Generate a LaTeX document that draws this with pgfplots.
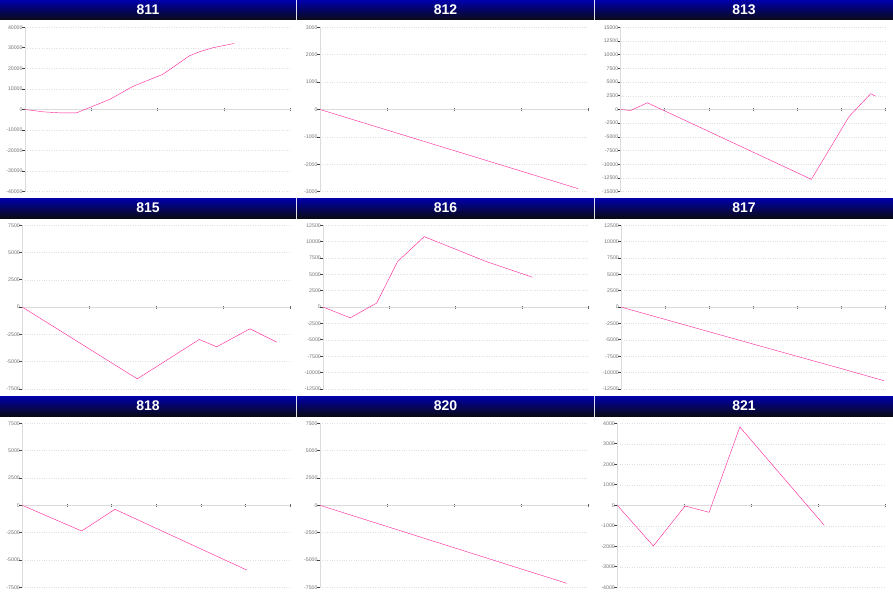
\documentclass[border=0pt]{standalone}
\usepackage{pgfplots}
\pgfplotsset{compat=1.18}
\usepackage{fontspec}
\setmainfont{Liberation Sans}
\definecolor{lc}{RGB}{255,30,150}
\definecolor{bartop}{RGB}{0,0,172}
\definecolor{barbot}{RGB}{10,10,22}
\pgfplotsset{panel/.style={
  scale only axis, anchor=south west,
  axis x line=middle, axis y line=left,
  axis line style={-, black!14, line width=1pt},
  xmin=0, xticklabels={},
  tick align=center, major tick length=3pt,
  ytick style={black!75, xshift=-1.5pt, line width=0.8pt},
  xtick style={black!60, line width=0.8pt},
  ymajorgrids, grid style={dotted, black!12, line width=0.6pt},
  scaled y ticks=false, clip=false,
  yticklabel style={font=\fontsize{5.2}{5.5}\selectfont, text=black!55, inner sep=0.8pt},
  /pgf/number format/fixed, /pgf/number format/1000 sep={}, /pgf/number format/assume math mode=true,
  cycle list={{lc, line width=1.3pt, mark=none}},
}}
\newcommand{\titlebar}[4]{%
  \shade[top color=bartop, bottom color=barbot] (#1pt,-#2pt) rectangle ++(#3pt,-20pt);
  \node[text=white, font=\bfseries\fontsize{14}{14}\selectfont] at (#1pt+0.5*#3pt,-#2pt-10pt) {#4};}
\begin{document}
\begin{tikzpicture}
\useasboundingbox (0,0) rectangle (893pt,-594pt);
\fill[white] (0,0) rectangle (893pt,-594pt);
\titlebar{0}{0}{296}{811}
\titlebar{297}{0}{297}{812}
\titlebar{595}{0}{298}{813}
\titlebar{0}{198}{296}{815}
\titlebar{297}{198}{297}{816}
\titlebar{595}{198}{298}{817}
\titlebar{0}{396}{296}{818}
\titlebar{297}{396}{297}{820}
\titlebar{595}{396}{298}{821}
% 811
\begin{axis}[panel, at={(25pt,-191.7pt)}, width=265.7pt, height=164.4pt,
  xmax=4, xtick={0,1,2,3,4}, ymin=-40000, ymax=40000, ytick={-40000,-30000,...,40000}]
\addplot coordinates {(0,0) (0.125,-490) (0.275,-1140) (0.525,-1630) (0.775,-1630) (1.275,4900) (1.625,11260) (2.075,17140) (2.475,26120) (2.625,28080) (2.825,30040) (3.15,32160)};
\end{axis}
% 812
\begin{axis}[panel, at={(320pt,-191.7pt)}, width=268.3pt, height=164.4pt,
  xmax=4, xtick={0,1,2,3,4}, ymin=-3000, ymax=3000, ytick={-3000,-2000,...,3000}]
\addplot coordinates {(0,0) (1,-750) (2,-1500) (3,-2250) (3.85,-2890)};
\end{axis}
% 813
\begin{axis}[panel, at={(620.7pt,-191.7pt)}, width=265pt, height=164.4pt,
  xmax=6, xtick={0,1,...,6}, ymin=-15000, ymax=15000, ytick={-15000,-12500,...,15000}]
\addplot coordinates {(0,0) (0.226,-184) (0.604,1225) (4.317,-12745) (5.17,-1287) (5.66,2880) (5.77,2450)};
\end{axis}
% 815
\begin{axis}[panel, at={(22.3pt,-388.9pt)}, width=268pt, height=163.6pt,
  xmax=4, xtick={0,1,2,3,4}, ymin=-7500, ymax=7500, ytick={-7500,-5000,...,7500}]
\addplot coordinates {(0,0) (1.716,-6579) (2.642,-2968) (2.900,-3641) (3.398,-1989) (3.796,-3213)};
\end{axis}
% 816
\begin{axis}[panel, at={(323.3pt,-389pt)}, width=265pt, height=163.7pt,
  xmax=4, xtick={0,1,2,3,4}, ymin=-12500, ymax=12500, ytick={-12500,-10000,...,12500}]
\addplot coordinates {(0,0) (0.407,-1626) (0.804,610) (1.121,6961) (1.347,9096) (1.523,10772) (2.45,7000) (3.156,4573)};
\end{axis}
% 817
\begin{axis}[panel, at={(621.3pt,-389pt)}, width=264.4pt, height=163.7pt,
  xmax=6, xtick={0,1,...,6}, ymin=-12500, ymax=12500, ytick={-12500,-10000,...,12500}]
\addplot coordinates {(0,0) (1,-1880) (2,-3770) (3,-5650) (4,-7530) (5,-9400) (5.96,-11230)};
\end{axis}
% 818
\begin{axis}[panel, at={(22.3pt,-587.3pt)}, width=268pt, height=164pt,
  xmax=6, xtick={0,1,...,6}, ymin=-7500, ymax=7500, ytick={-7500,-5000,...,7500}]
\addplot coordinates {(0,0) (1.328,-2348) (2.075,-366) (5.022,-5915)};
\end{axis}
% 820
\begin{axis}[panel, at={(320pt,-587.3pt)}, width=268.3pt, height=164pt,
  xmax=4, xtick={0,1,2,3,4}, ymin=-7500, ymax=7500, ytick={-7500,-5000,...,7500}]
\addplot coordinates {(0,0) (1,-1940) (2,-3880) (3,-5820) (3.68,-7134)};
\end{axis}
% 821
\begin{axis}[panel, at={(617.3pt,-587.3pt)}, width=268.4pt, height=164pt,
  xmax=4, xtick={0,1,2,3,4}, ymin=-4000, ymax=4000, ytick={-4000,-3000,...,4000}]
\addplot coordinates {(0,0) (0.537,-1984) (1.01,-33) (1.368,-341) (1.826,3821) (3.085,-976)};
\end{axis}
\end{tikzpicture}
\end{document}
